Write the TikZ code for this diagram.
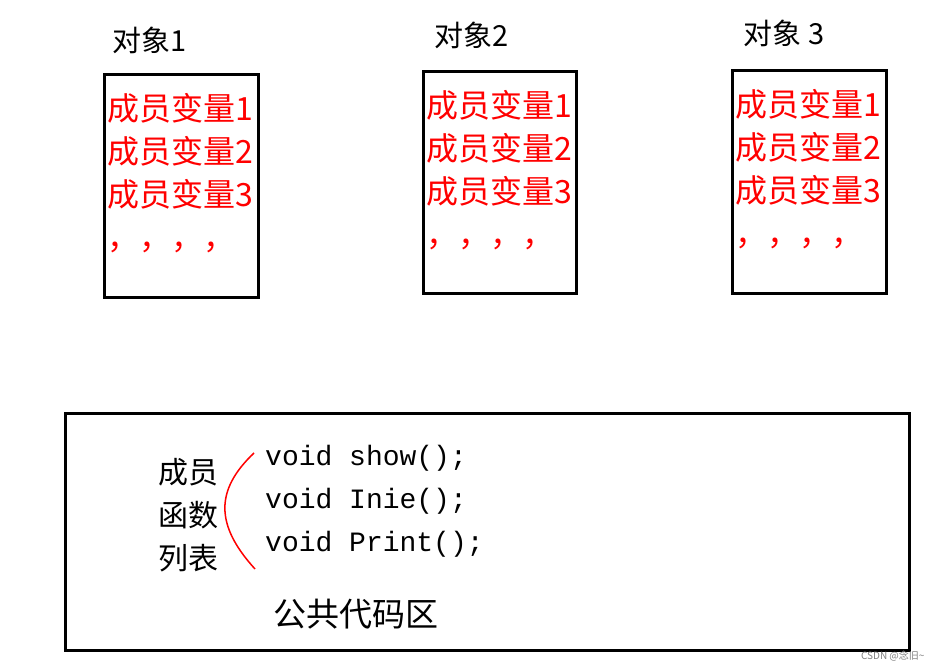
\documentclass[tikz,border=0pt]{standalone}
\usepackage{fontspec}
\newfontfamily\cjk{Noto Sans CJK SC}
\newfontfamily\mono{Liberation Mono}
\begin{document}
\begin{tikzpicture}[x=1pt,y=-1pt,
  obj/.style={draw,line width=3pt},
  title/.style={font=\cjk\fontsize{29}{30}\selectfont,anchor=center},
  mem/.style={font=\cjk\fontsize{32}{43}\selectfont,text=red,align=left,anchor=north west,inner sep=0pt},
  code/.style={font=\mono\fontsize{28}{43}\selectfont,align=left,anchor=north west,inner sep=0pt},
  lbl/.style={font=\cjk\fontsize{30}{43}\selectfont,align=center,inner sep=0pt}]
\useasboundingbox (0,0) rectangle (943,671);
\fill[white] (0,0) rectangle (943,671);
\draw[obj] (104,75) rectangle (258,298);
\draw[obj] (423,72) rectangle (576,294);
\draw[obj] (732,71) rectangle (886,294);
\node[title] (t1) at (150,40) {对象1};
\node[title] (t2) at (472,35) {对象2};
\node[title] (t3) at (784,33) {对象 3};
\node[mem] (m1) at (107,93) {成员变量1\\成员变量2\\成员变量3\\，，，，};
\node[mem] (m2) at (426,90) {成员变量1\\成员变量2\\成员变量3\\，，，，};
\node[mem] (m3) at (735,89) {成员变量1\\成员变量2\\成员变量3\\，，，，};
\draw[obj] (65,413) rectangle (909,650);
\node[lbl] (f) at (188,515) {成员\\函数\\列表};
\draw[red,line width=1.5pt] (254,453) .. controls (215,490) and (215,525) .. (255,569);
\node[code] (c) at (265,445) {void show();\\void Inie();\\void Print();};
\node[font=\cjk\fontsize{33}{40}\selectfont,inner sep=0pt] (p) at (356,614) {公共代码区};
\node[font=\cjk\fontsize{10}{12}\selectfont,text=gray,anchor=east] (w) at (928,656) {CSDN @念旧\textasciitilde};
\end{tikzpicture}
\end{document}
